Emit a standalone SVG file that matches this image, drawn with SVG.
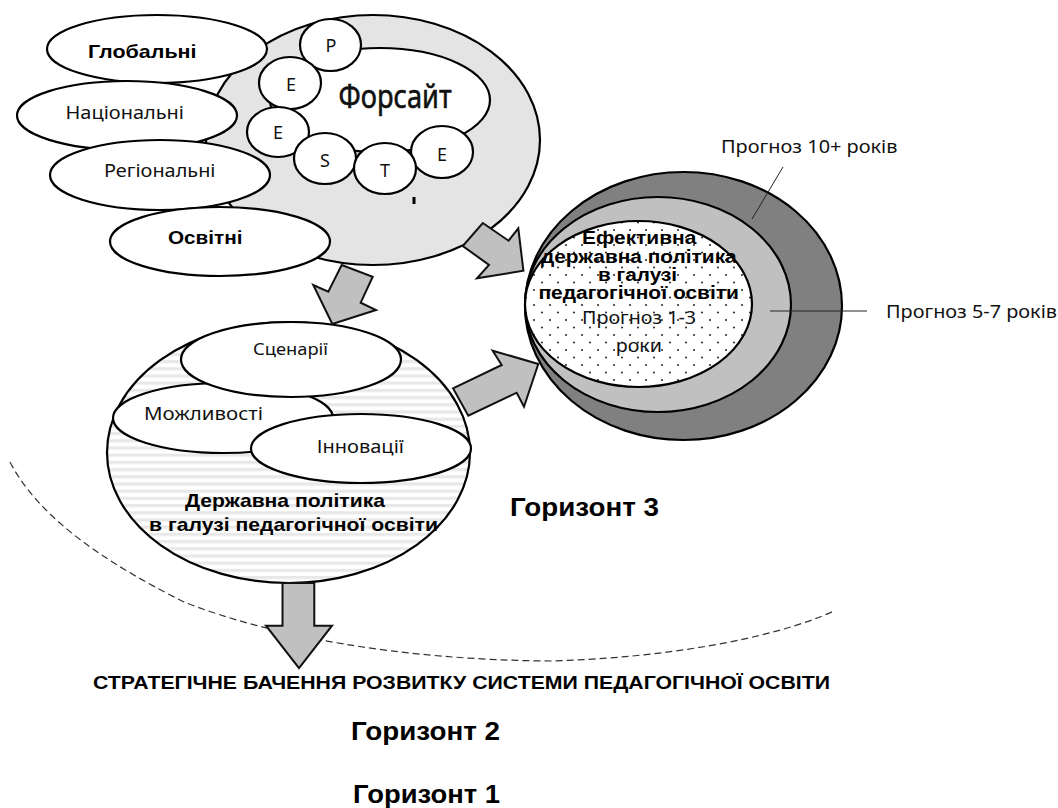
<svg xmlns="http://www.w3.org/2000/svg" width="1058" height="808" viewBox="0 0 1058 808">
<style>
text{font-family:"Noto Sans","Open Sans",sans-serif;font-size:18px;fill:#111}
.b{font-family:"Liberation Sans",Arial,sans-serif;font-weight:700;fill:#000}
.m{text-anchor:middle}
.o{fill:#fff;stroke:#000;stroke-width:2.2}
.a{fill:#c0c0c0;stroke:#111;stroke-width:2}
.l{stroke:#222;stroke-width:1;fill:none}
</style>
<defs>
<pattern id="dots" width="16" height="15" patternUnits="userSpaceOnUse" x="3" y="2">
<rect width="16" height="15" fill="#fff"/>
<circle cx="3" cy="3" r="1" fill="#222"/><circle cx="11" cy="10.5" r="1" fill="#222"/>
</pattern>
<pattern id="stripes" width="10" height="7.2" patternUnits="userSpaceOnUse">
<rect width="10" height="7.2" fill="#fff"/><rect width="10" height="3.2" fill="#e8e8e8"/>
</pattern>
</defs>
<rect width="1058" height="808" fill="#fff"/>
<path id="horizon-line" d="M10 462C40 520 110 565 184 602C270 636 400 660 551 661C660 658 770 640 834 611" fill="none" stroke="#333" stroke-width="1.2" stroke-dasharray="7 4"/>
<g id="foresight">
<ellipse cx="373" cy="140" rx="167" ry="125" fill="#e4e4e4" stroke="#000" stroke-width="2.2"/>
<ellipse class="o" cx="380" cy="100" rx="110" ry="52"/>
<text x="338.600" y="108" textLength="113" lengthAdjust="spacingAndGlyphs" style="font-size:33px;stroke:#111;stroke-width:.6">Форсайт</text>
<rect x="412.500" y="197" width="3" height="7" fill="#000"/>
</g>
<g id="p"><ellipse class="o" cx="330.500" cy="45" rx="30.500" ry="26"/><text class="m" x="331" y="52">P</text></g>
<g id="e1"><ellipse class="o" cx="290" cy="83" rx="31" ry="26"/><text class="m" x="291" y="91">E</text></g>
<g id="e2"><ellipse class="o" cx="278" cy="132" rx="31" ry="25"/><text class="m" x="278" y="139">E</text></g>
<g id="s"><ellipse class="o" cx="325" cy="158.500" rx="31" ry="25.500"/><text class="m" x="325" y="167">S</text></g>
<g id="e3"><ellipse class="o" cx="442" cy="152" rx="31" ry="26"/><text class="m" x="442" y="160.500">E</text></g>
<g id="t"><ellipse class="o" cx="385" cy="168.500" rx="31" ry="25.500"/><text class="m" x="385" y="176.500">T</text></g>
<g id="global"><ellipse class="o" cx="157" cy="49" rx="110" ry="34"/><text class="b" x="88" y="58" textLength="108.500" lengthAdjust="spacingAndGlyphs" style="font-size:19px">Глобальні</text></g>
<g id="national"><ellipse class="o" cx="127" cy="115.500" rx="110" ry="34.500"/><text x="65.500" y="119" textLength="118.500" lengthAdjust="spacingAndGlyphs">Національні</text></g>
<g id="regional"><ellipse class="o" cx="160" cy="175" rx="110" ry="35"/><text x="104" y="176.500" textLength="111.500" lengthAdjust="spacingAndGlyphs">Регіональні</text></g>
<g id="education"><ellipse class="o" cx="220" cy="241.500" rx="110" ry="34.500"/><text class="b" x="168" y="244" textLength="74.500" lengthAdjust="spacingAndGlyphs" style="font-size:19px">Освітні</text></g>
<g id="policy">
<ellipse cx="288.500" cy="452.500" rx="181.500" ry="130.500" fill="url(#stripes)" stroke="#000" stroke-width="2.2"/>
<ellipse class="o" cx="223" cy="418" rx="110" ry="35"/>
<ellipse class="o" cx="291" cy="359.500" rx="110" ry="37.500"/>
<ellipse class="o" cx="361" cy="448.500" rx="110" ry="34.500"/>
<text x="253" y="355" textLength="75" lengthAdjust="spacingAndGlyphs" style="font-size:16.500px">Сценарії</text>
<text x="144" y="420" textLength="119" lengthAdjust="spacingAndGlyphs">Можливості</text>
<text x="316.700" y="452.700" textLength="87.300" lengthAdjust="spacingAndGlyphs">Інновації</text>
<text class="b" x="185" y="507" textLength="200" lengthAdjust="spacingAndGlyphs" style="font-size:19px">Державна політика</text>
<text class="b" x="149" y="530.700" textLength="289" lengthAdjust="spacingAndGlyphs" style="font-size:19px">в галузі педагогічної освіти</text>
</g>
<g id="forecast">
<ellipse cx="683.500" cy="306" rx="158.500" ry="134" fill="#808080" stroke="#000" stroke-width="2.200"/>
<ellipse cx="658" cy="304.500" rx="133" ry="107.500" fill="#c0c0c0" stroke="#000" stroke-width="2.200"/>
<ellipse cx="638.500" cy="304" rx="113.500" ry="83" fill="url(#dots)" stroke="#000" stroke-width="2.200"/>
<text class="b" x="582" y="244" textLength="114.400" lengthAdjust="spacingAndGlyphs" style="font-size:18px">Ефективна</text>
<text class="b" x="541" y="263" textLength="195.700" lengthAdjust="spacingAndGlyphs" style="font-size:18px">державна політика</text>
<text class="b" x="598" y="281" textLength="79" lengthAdjust="spacingAndGlyphs" style="font-size:18px">в галузі</text>
<text class="b" x="538.400" y="299" textLength="200.600" lengthAdjust="spacingAndGlyphs" style="font-size:18px">педагогічної освіти</text>
<text x="582" y="324" textLength="114" lengthAdjust="spacingAndGlyphs">Прогноз 1-3</text>
<text x="615.700" y="352" textLength="46.300" lengthAdjust="spacingAndGlyphs">роки</text>
</g>
<g id="connectors">
<polygon class="a" points="341.700,265 372.700,276.700 360.700,302.700 376,310 332.300,324 313.300,285 328.300,291.700"/>
<polygon class="a" points="462.800,246 482.800,223 508.600,240.700 518.300,228.300 523.400,270.700 477,278.300 489,265"/>
<polygon class="a" points="453,388.300 501.700,365 492.700,350.700 538.300,364 524,406.700 516.700,392.700 468.300,415.700"/>
<polygon class="a" stroke-width="2.500" points="282.500,583 314.300,583 314.300,625.700 332,625.700 299,668 266,625.700 282.500,625.700"/>
<line class="l" x1="783" y1="167" x2="752" y2="219"/>
<line class="l" x1="770" y1="311" x2="867" y2="311"/>
</g>
<g id="labels">
<text x="721" y="153" textLength="176.500" lengthAdjust="spacingAndGlyphs">Прогноз 10+ років</text>
<text x="886" y="318" textLength="171" lengthAdjust="spacingAndGlyphs">Прогноз 5-7 років</text>
<text class="b" x="510" y="516" textLength="149" lengthAdjust="spacingAndGlyphs" style="font-size:25.500px">Горизонт 3</text>
<text class="b" x="93" y="689.300" textLength="737" lengthAdjust="spacingAndGlyphs" style="font-size:18px">СТРАТЕГІЧНЕ БАЧЕННЯ РОЗВИТКУ СИСТЕМИ ПЕДАГОГІЧНОЇ ОСВІТИ</text>
<text class="b" x="351" y="740" textLength="149" lengthAdjust="spacingAndGlyphs" style="font-size:25.500px">Горизонт 2</text>
<text class="b" x="353" y="803" textLength="147" lengthAdjust="spacingAndGlyphs" style="font-size:25.500px">Горизонт 1</text>
</g>
</svg>
